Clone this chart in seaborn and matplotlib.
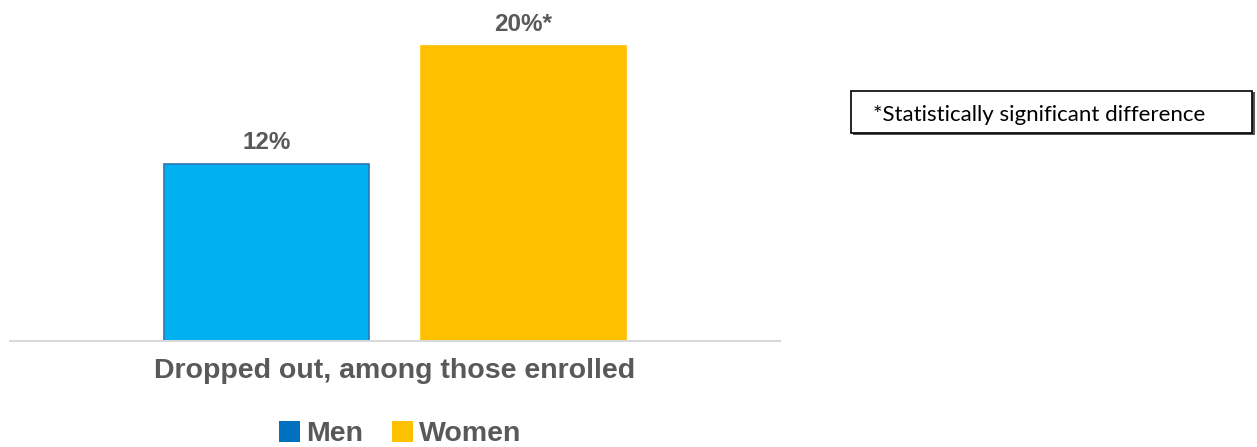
import pandas as pd
import seaborn as sns
import matplotlib.pyplot as plt
from matplotlib.patches import Patch, Rectangle

# Chart values
category = ["Dropped out, among those enrolled"]
groups = ["Men", "Women"]
values = [12, 20]
labels = ["12%", "20%*"]
note = "*Statistically significant difference"

bar_colors = ["#00B0F0", "#FFC000"]
legend_colors = ["#0070C0", "#FFC000"]
grey = "#595959"

df = pd.DataFrame({"category": category * 2, "group": groups, "value": values})

sns.set_theme(style="white")
plt.rcParams["font.family"] = ["Liberation Sans", "DejaVu Sans"]

fig = plt.figure(figsize=(12.57, 4.47), dpi=100)
ax = fig.add_axes([10 / 1257, 1 - 341 / 447, 770 / 1257, 325 / 447])

sns.barplot(data=df, x="category", y="value", hue="group",
            palette=bar_colors, saturation=1, width=0.8, gap=0.2,
            legend=False, ax=ax)

for bar, lab in zip(ax.patches, labels):
    bar.set_edgecolor("#2E75B6" if lab == "12%" else "#FFC000")
    bar.set_linewidth(1.2)
    ax.annotate(lab, (bar.get_x() + bar.get_width() / 2, bar.get_height()),
                xytext=(0, 7), textcoords="offset points", ha="center",
                va="bottom", fontsize=17.5, fontweight="bold", color=grey)

ax.set_xlim(-0.6, 0.6)
ax.set_ylim(0, 22)
ax.set_yticks([])
ax.set_xticks([])
ax.set_ylabel("")
ax.set_xlabel(category[0], fontsize=20.5, fontweight="bold", color=grey,
              labelpad=12)
for s in ["top", "right", "left"]:
    ax.spines[s].set_visible(False)
ax.spines["bottom"].set_color("#D9D9D9")
ax.spines["bottom"].set_linewidth(1.5)

# Legend
handles = [Patch(facecolor=c, edgecolor="none", label=g)
           for c, g in zip(legend_colors, groups)]
fig.legend(handles=handles, loc="center", bbox_to_anchor=(400 / 1257, 1 - 434 / 447),
           ncol=2, frameon=False, handlelength=0.75, handleheight=0.75,
           handletextpad=0.2, columnspacing=1.0,
           prop={"size": 20.5, "weight": "bold"}, labelcolor=grey)

# Note box
fig.patches.append(Rectangle((853 / 1257, 1 - 135 / 447), 402 / 1257, 43 / 447,
                             transform=fig.transFigure, facecolor="#555555",
                             edgecolor="none"))
fig.patches.append(Rectangle((851 / 1257, 1 - 133 / 447), 401 / 1257, 42 / 447,
                             transform=fig.transFigure, facecolor="white",
                             edgecolor="black", linewidth=1.2))
fig.text(873 / 1257, 1 - 115 / 447, note, fontsize=16, color="black",
         va="center", ha="left", family=["Lato", "DejaVu Sans"])

fig.savefig("out.png", dpi=100)
